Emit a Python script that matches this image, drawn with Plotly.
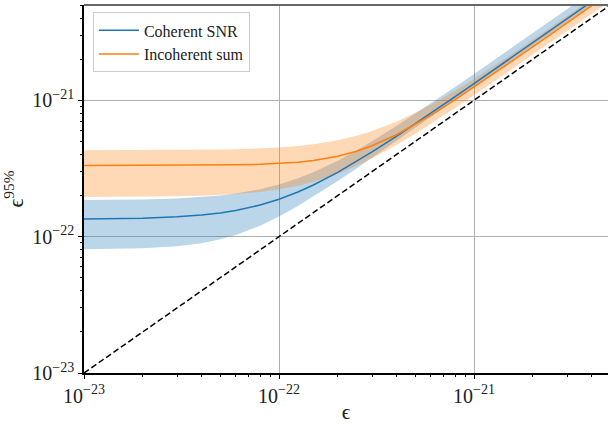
import plotly.graph_objects as go

SCALE = 1e-22  # values below are in units of 1e-22

eps = [0.1, 0.15, 0.2, 0.3, 0.4, 0.5, 0.6, 0.8, 1.0, 1.25, 1.5, 2.0, 2.5, 3.0,
       4.0, 5.0, 6.0, 8.0, 10.0, 15.0, 20.0, 30.0, 40.0, 50.0]

coh_mid = [1.3465, 1.3546, 1.3658, 1.3973, 1.4403, 1.4937, 1.5566, 1.7061, 1.8810,
           2.1256, 2.3908, 2.9606, 3.5617, 4.1805, 5.4474, 6.7347, 8.0325, 10.645,
           13.268, 19.845, 26.434, 39.623, 52.817, 66.014]
coh_hi = [1.8565, 1.8646, 1.8758, 1.9075, 1.9511, 2.0058, 2.0706, 2.2271, 2.4135,
          2.6789, 2.9712, 3.610, 4.294, 5.0045, 6.470, 7.9677, 9.4822, 12.537,
          15.610, 23.323, 31.055, 46.537, 62.027, 77.522]
coh_lo = [0.8089, 0.8142, 0.8229, 0.8515, 0.8959, 0.9553, 1.0275, 1.2017, 1.4027,
          1.6757, 1.963, 2.558, 3.167, 3.782, 5.021, 6.265, 7.511, 10.008,
          12.505, 18.75, 25.0, 37.5, 50.0, 62.5]

inc_mid = [3.331, 3.3315, 3.3324, 3.336, 3.3416, 3.350, 3.361, 3.393, 3.438,
           3.516, 3.616, 3.884, 4.231, 4.641, 5.592, 6.650, 7.768, 10.098,
           12.485, 18.553, 24.665, 36.93, 49.22, 61.52]
inc_hi = [4.3022, 4.3049, 4.3087, 4.3196, 4.3348, 4.3542, 4.3779, 4.4375, 4.5130,
          4.6285, 4.7658, 5.0988, 5.4973, 5.9483, 6.9656, 8.0878, 9.2768, 11.773,
          14.359, 20.995, 27.736, 41.324, 54.968, 68.635]
inc_lo = [1.9529, 1.9566, 1.9617, 1.9762, 1.9964, 2.0221, 2.0530, 2.1296, 2.2243,
          2.3646, 2.5256, 2.8952, 3.3103, 3.7559, 4.7033, 5.6943, 6.7097, 8.7793,
          10.876, 16.168, 21.489, 32.159, 42.844, 53.536]

major_ticks = [1e-23, 1e-22, 1e-21]
major_text = ["10<sup>−23</sup>", "10<sup>−22</sup>", "10<sup>−21</sup>"]

x = [v * SCALE for v in eps]
def sc(a):
    return [v * SCALE for v in a]

BLUE = "#1f77b4"
ORANGE = "#ff7f0e"
FONT = "Liberation Serif"

fig = go.Figure()

# bands (drawn first, like matplotlib fill_between)
for lo, hi, col in [(coh_lo, coh_hi, "rgba(31,119,180,0.3)"),
                    (inc_lo, inc_hi, "rgba(255,127,14,0.3)")]:
    fig.add_trace(go.Scatter(
        x=x + x[::-1], y=sc(hi) + sc(lo)[::-1],
        fill="toself", fillcolor=col, line=dict(width=0),
        mode="lines", showlegend=False, hoverinfo="skip"))

fig.add_trace(go.Scatter(x=x, y=sc(coh_mid), mode="lines", name="Coherent SNR",
                         line=dict(color=BLUE, width=1.5)))
fig.add_trace(go.Scatter(x=x, y=sc(inc_mid), mode="lines", name="Incoherent sum",
                         line=dict(color=ORANGE, width=1.5)))
# y = x reference line
fig.add_trace(go.Scatter(x=[x[0], x[-1]], y=[x[0], x[-1]], mode="lines",
                         showlegend=False,
                         line=dict(color="black", width=1.5, dash="6px,3px")))

minor_vals = [m * 10.0 ** e for e in (-23, -22, -21) for m in range(2, 10)]

axis_common = dict(
    type="log", automargin=False,
    tickmode="array", tickvals=major_ticks, ticktext=major_text,
    ticks="outside", ticklen=4, tickwidth=1, tickcolor="black",
    showgrid=True, gridcolor="#b0b0b0", gridwidth=1,
    showline=True, linecolor="black", linewidth=1.5,
    zeroline=False,
    tickfont=dict(family=FONT, size=20, color="#222"),
    minor=dict(tickmode="array", tickvals=minor_vals, ticks="outside",
               ticklen=2, tickwidth=0.8, tickcolor="black", showgrid=False),
)

fig.update_layout(
    width=608, height=424,
    margin=dict(l=84, r=0, t=5, b=51, autoexpand=False),
    paper_bgcolor="white", plot_bgcolor="white",
    xaxis=dict(range=[-23, -20.313],
               title=dict(text="ϵ", font=dict(family=FONT, size=21, color="#222"),
                          standoff=2),
               **axis_common),
    yaxis=dict(range=[-23, -20.301],
               title=dict(text="ϵ<sup>95%</sup>",
                          font=dict(family=FONT, size=22, color="#222"),
                          standoff=8),
               **axis_common),
    legend=dict(x=0.017, y=0.98, xanchor="left", yanchor="top",
                bgcolor="rgba(255,255,255,0.8)", bordercolor="#cccccc",
                borderwidth=1, font=dict(family=FONT, size=16, color="#222"),
                itemwidth=40, tracegroupgap=0),
    shapes=[dict(type="line", xref="paper", yref="paper", x0=0, x1=1, y0=1, y1=1,
                 line=dict(color="#666666", width=2))],
    showlegend=True,
)

fig.write_html(
    "out.html",
    config={"displayModeBar": False},
    post_script="document.body.style.margin='0';document.body.style.overflow='hidden';",
)
